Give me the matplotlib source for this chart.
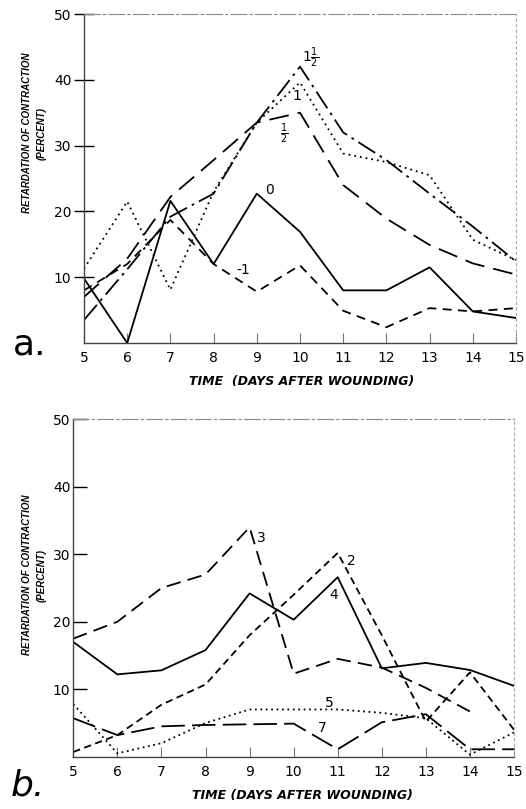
import matplotlib
matplotlib.use("Agg")
import matplotlib.pyplot as plt

# ---------------- data ----------------
days = [5, 6, 7, 8, 9, 10, 11, 12, 13, 14, 15]

# panel a
a_zero = [9.8, 0.0, 21.6, 12.0, 22.7, 16.9, 8.0, 8.0, 11.5, 4.8, 3.8]
a_minus1 = [8.0, 12.0, 18.7, 12.0, 7.8, 11.8, 4.9, 2.4, 5.3, 4.8, 5.3]
a_half = [7.0, 12.8, 22.2, 27.8, 33.5, 35.0, 24.0, 18.9, 14.9, 12.1, 10.4]
a_one = [11.3, 21.5, 8.1, 23.0, 33.5, 39.6, 28.8, 27.5, 25.5, 15.7, 12.6]
a_onehalf = [3.5, 11.2, 19.2, 22.7, 33.5, 42.0, 32.0, 27.8, 22.7, 17.7, 12.4]

# panel b
b_four = [17.0, 12.2, 12.8, 15.8, 24.2, 20.3, 26.6, 13.1, 13.9, 12.85, 10.5]
b_three = [17.5, 20.0, 25.0, 27.0, 34.0, 12.3, 14.5, 13.2, 10.2, 6.7]
b_two = [0.7, 3.2, 7.7, 10.7, 18.0, 24.0, 30.2, 18.0, 5.2, 12.5, 4.0]
b_five = [7.8, 0.5, 2.0, 5.0, 7.0, 7.0, 7.0, 6.5, 5.7, 0.3, 3.6]
b_seven = [5.7, 3.2, 4.5, 4.7, 4.8, 4.9, 1.1, 5.1, 6.3, 1.1, 1.1]

yticks = [10, 20, 30, 40, 50]

W, H = 526, 809
fig = plt.figure(figsize=(W / 100, H / 100), dpi=100)

lab_font = dict(family=["Liberation Sans", "DejaVu Sans"], style="italic", weight="bold")


def setup(ax, ydir, ylen):
    ax.set_xlim(5, 15)
    ax.set_ylim(0, 50)
    ax.set_xticks(days)
    ax.set_xticklabels([str(d) for d in days], fontsize=10)
    ax.set_yticks(yticks)
    ax.set_yticklabels([str(t) for t in yticks], fontsize=10)
    ax.tick_params(axis="y", direction=ydir, length=ylen, width=1, pad=2, colors="black")
    ax.tick_params(axis="x", direction="in", length=7, width=0.8, pad=6, color="#777777")
    for s in ["left", "bottom"]:
        ax.spines[s].set_color("#444444")
        ax.spines[s].set_linewidth(1.0)
    ax.spines["top"].set_color("#888888")
    ax.spines["top"].set_linestyle((0, (14, 3, 2, 3)))
    ax.spines["top"].set_linewidth(0.8)
    ax.spines["right"].set_color("#aaaaaa")
    ax.spines["right"].set_linestyle((0, (2, 3)))
    ax.spines["right"].set_linewidth(0.8)
    ax.patch.set_alpha(0)


# ---------- panel a ----------
ax1 = fig.add_axes([84 / W, 1 - 343 / H, (516 - 84) / W, (343 - 14) / H])
setup(ax1, "inout", 14)
lw = 1.3
ax1.plot(days, a_zero, color="black", lw=lw, ls="-")
ax1.plot(days, a_minus1, color="black", lw=lw, ls=(0, (5, 3.5)))
ax1.plot(days, a_half, color="black", lw=lw, ls=(0, (11, 5)))
ax1.plot(days, a_one, color="black", lw=lw, ls=(0, (1, 2.2)))
ax1.plot(days, a_onehalf, color="black", lw=lw, ls=(0, (11, 3, 1.5, 3)))

ax1.text(10.25, 43.3, r"$1\frac{1}{2}$", fontsize=10, ha="center", va="center")
ax1.text(9.92, 37.6, "1", fontsize=10, ha="center", va="center")
ax1.text(9.63, 31.8, r"$\frac{1}{2}$", fontsize=10, ha="center", va="center")
ax1.text(9.3, 23.3, "0", fontsize=10, ha="center", va="center")
ax1.text(8.69, 11.1, "-1", fontsize=10, ha="center", va="center")

# ---------- panel b ----------
ax2 = fig.add_axes([73.3 / W, 1 - 756.7 / H, (514 - 73.3) / W, (756.7 - 419.3) / H])
setup(ax2, "in", 10)
ax2.plot(days, b_four, color="black", lw=lw, ls="-")
ax2.plot(days[:len(b_three)], b_three, color="black", lw=lw, ls=(0, (8, 4)))
ax2.plot(days, b_two, color="black", lw=lw, ls=(0, (4, 2.5)))
ax2.plot(days, b_five, color="black", lw=lw, ls=(0, (1, 2)))
ax2.plot(days, b_seven, color="black", lw=lw, ls=(0, (13, 4)))

ax2.text(9.27, 32.4, "3", fontsize=10, ha="center", va="center")
ax2.text(11.32, 29.05, "2", fontsize=10, ha="center", va="center")
ax2.text(10.9, 24.0, "4", fontsize=10, ha="center", va="center")
ax2.text(10.82, 8.0, "5", fontsize=10, ha="center", va="center")
ax2.text(10.64, 4.2, "7", fontsize=10, ha="center", va="center")

# ---------- labels ----------
for cy in (133, 575):
    fig.text(27 / W, 1 - cy / H, "RETARDATION OF CONTRACTION", rotation=90,
             ha="center", va="center", fontsize=7, **lab_font)
    fig.text(42 / W, 1 - cy / H, "(PERCENT)", rotation=90,
             ha="center", va="center", fontsize=7, **lab_font)

fig.text(302 / W, 1 - 381 / H, "TIME  (DAYS AFTER WOUNDING)", ha="center", va="center",
         fontsize=9, family="DejaVu Sans", style="italic", weight="bold")
fig.text(302 / W, 1 - 795 / H, "TIME (DAYS AFTER WOUNDING)", ha="center", va="center",
         fontsize=9, family="DejaVu Sans", style="italic", weight="bold")

fig.text(30 / W, 1 - 345 / H, "a.", ha="center", va="center", fontsize=26,
         family="DejaVu Sans")
fig.text(28 / W, 1 - 785 / H, "b.", ha="center", va="center", fontsize=26,
         family="DejaVu Sans", style="italic")

fig.savefig("out.png", dpi=100, facecolor="white")
